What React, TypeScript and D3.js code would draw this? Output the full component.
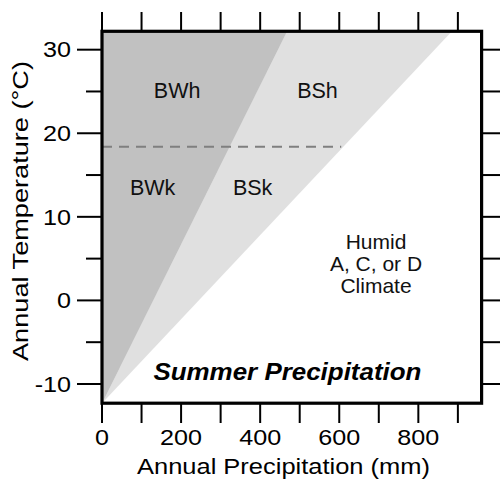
import React from "react";
import * as d3 from "d3";

// ---- data ----
const precipDomain = [0, 960]; // mm
const tempDomain = [-12.3, 32.2]; // °C
const xTickValues = [0, 100, 200, 300, 400, 500, 600, 700, 800, 900];
const xTickLabels = [0, 200, 400, 600, 800];
const yMajorTicks = [-10, 0, 10, 20, 30];
const yMinorTicks = [-5, 5, 15, 25];
const yRightTicks = [-10, -5, 0, 5, 10, 15, 20, 25, 30];

// boundaries: precipitation threshold vs temperature
const steppeBoundary = [
  { p: 0, t: -12.3 },
  { p: 885, t: 32.2 },
];
const desertBoundary = [
  { p: 0, t: -12.3 },
  { p: 468, t: 32.2 },
];
const hotColdTemp = 18.4;
const hotColdLineEnd = 605;

const regionLabels = [
  { text: "BWh", p: 190, t: 25.1 },
  { text: "BSh", p: 545, t: 25.1 },
  { text: "BWk", p: 128, t: 13.5 },
  { text: "BSk", p: 381, t: 13.5 },
];
const humidLines = ["Humid", "A, C, or D", "Climate"];
const humidPos = { p: 693, t: 4.42 };
const panelTitle = "Summer Precipitation";
const panelTitlePos = { p: 469, t: -8.5 };

export default function App() {
  const W = 500;
  const H = 483;
  const left = 102;
  const right = 481.6;
  const top = 31.3;
  const bottom = 403.2;
  const x = d3.scaleLinear().domain(precipDomain).range([left, right]);
  const y = d3.scaleLinear().domain(tempDomain).range([bottom, top]);
  const font = "'Liberation Sans', Arial, Helvetica, sans-serif";

  const area = (boundary: { p: number; t: number }[]) => {
    const pts: [number, number][] = [
      [precipDomain[0], tempDomain[1]],
      ...boundary.map((d) => [d.p, d.t] as [number, number]),
    ];
    const line = d3
      .line<[number, number]>()
      .x((d) => x(d[0]))
      .y((d) => y(d[1]));
    return line(pts) + "Z";
  };

  return (
    <svg
      width={W}
      height={H}
      style={{ position: "absolute", left: 0, top: 0, background: "#fff" }}
    >
      <rect x={0} y={0} width={W} height={H} fill="#fff" />
      <path d={area(steppeBoundary)} fill="#e0e0e0" />
      <path d={area(desertBoundary)} fill="#c1c1c1" />
      <line
        x1={x(0)}
        x2={x(hotColdLineEnd)}
        y1={y(hotColdTemp)}
        y2={y(hotColdTemp)}
        stroke="#7f7f7f"
        strokeWidth={2}
        strokeDasharray="10,7"
      />
      {regionLabels.map((d) => (
        <text
          key={d.text}
          x={x(d.p)}
          y={y(d.t) + 7.8}
          textAnchor="middle"
          fontFamily={font}
          fontSize={21.5}
          fill="#111"
        >
          {d.text}
        </text>
      ))}
      {humidLines.map((s, i) => (
        <text
          key={s}
          x={x(humidPos.p)}
          y={y(humidPos.t) + (i - 1) * 21.6 + 7.5}
          textAnchor="middle"
          fontFamily={font}
          fontSize={21}
          fill="#111"
        >
          {s}
        </text>
      ))}
      <text
        x={x(panelTitlePos.p)}
        y={y(panelTitlePos.t) + 8.3}
        textAnchor="middle"
        fontFamily={font}
        fontSize={23}
        fontWeight="bold"
        fontStyle="italic"
        textLength={268}
        lengthAdjust="spacingAndGlyphs"
        fill="#000"
      >
        {panelTitle}
      </text>

      {/* frame */}
      <rect
        x={left}
        y={top}
        width={right - left}
        height={bottom - top}
        fill="none"
        stroke="#000"
        strokeWidth={3.2}
      />

      {/* ticks */}
      <g stroke="#000" strokeWidth={2}>
        {xTickValues.map((v) => (
          <g key={"xt" + v}>
            <line x1={x(v)} x2={x(v)} y1={top} y2={12} />
            <line x1={x(v)} x2={x(v)} y1={bottom} y2={423} />
          </g>
        ))}
        {yMajorTicks.map((v) => (
          <line key={"ym" + v} x1={left} x2={77} y1={y(v)} y2={y(v)} />
        ))}
        {yMinorTicks.map((v) => (
          <line key={"yn" + v} x1={left} x2={86} y1={y(v)} y2={y(v)} />
        ))}
        {yRightTicks.map((v) => (
          <line key={"yr" + v} x1={right} x2={W} y1={y(v)} y2={y(v)} />
        ))}
      </g>

      {/* tick labels */}
      {xTickLabels.map((v) => (
        <text
          key={"xl" + v}
          transform={`translate(${x(v)},444.5) scale(1.17,1)`}
          textAnchor="middle"
          fontFamily={font}
          fontSize={21.5}
          fill="#000"
        >
          {v}
        </text>
      ))}
      {yMajorTicks.map((v) => (
        <text
          key={"yl" + v}
          transform={`translate(71,${y(v) + 7.8}) scale(1.17,1)`}
          textAnchor="end"
          fontFamily={font}
          fontSize={21.5}
          fill="#000"
        >
          {v}
        </text>
      ))}

      {/* axis titles */}
      <text
        x={283.5}
        y={474}
        textAnchor="middle"
        fontFamily={font}
        fontSize={21.5}
        textLength={293}
        lengthAdjust="spacingAndGlyphs"
        fill="#000"
      >
        Annual Precipitation (mm)
      </text>
      <text
        transform={`translate(28,211) rotate(-90)`}
        textAnchor="middle"
        fontFamily={font}
        fontSize={21.5}
        textLength={300}
        lengthAdjust="spacingAndGlyphs"
        fill="#000"
      >
        Annual Temperature (°C)
      </text>
    </svg>
  );
}
